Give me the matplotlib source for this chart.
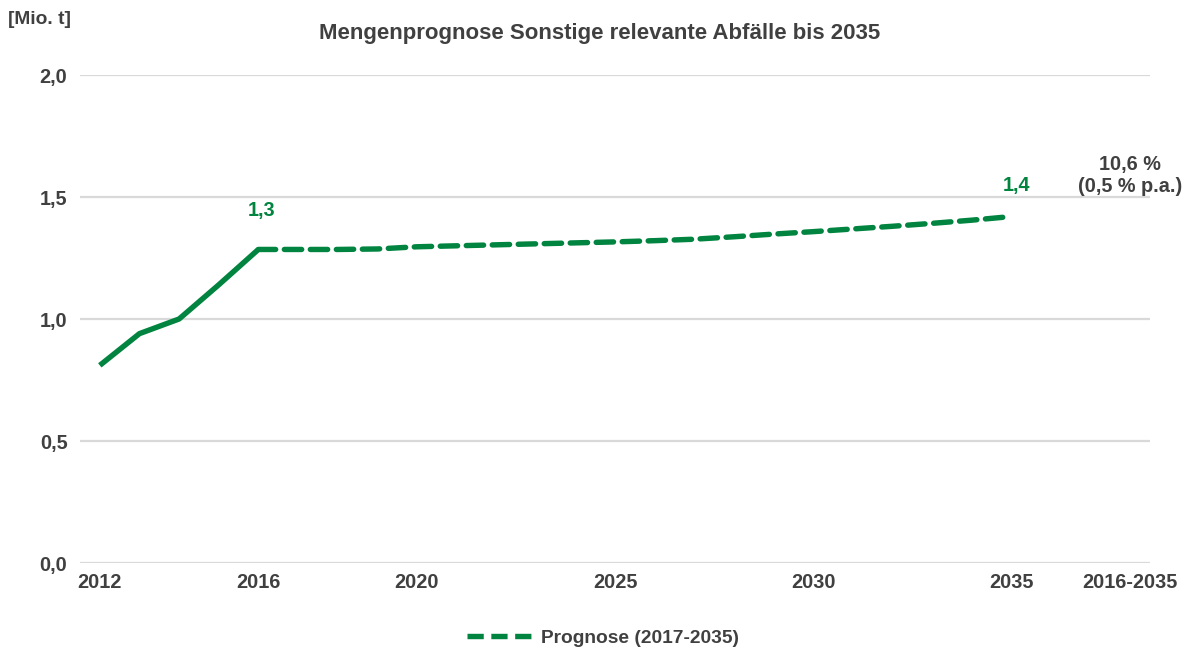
import matplotlib
matplotlib.use("Agg")
import matplotlib.pyplot as plt
from matplotlib.lines import Line2D

# Data
hist_years = [2012, 2013, 2014, 2015, 2016]
hist_values = [0.81, 0.94, 1.00, 1.14, 1.285]
prog_years = list(range(2016, 2036))
prog_values = [1.285, 1.285, 1.285, 1.287, 1.296, 1.300, 1.304, 1.308, 1.312, 1.316,
               1.321, 1.327, 1.337, 1.348, 1.358, 1.369, 1.380, 1.392, 1.405, 1.420]
tick_years = [2012, 2016, 2020, 2025, 2030, 2035, 2038]
tick_labels = ["2012", "2016", "2020", "2025", "2030", "2035", "2016-2035"]
y_ticks = [0.0, 0.5, 1.0, 1.5, 2.0]
y_labels = ["0,0", "0,5", "1,0", "1,5", "2,0"]

green = "#00843F"
grey_text = "#404040"
fs = 14.3

plt.rcParams['font.family'] = ['Liberation Sans', 'DejaVu Sans']
plt.rcParams['font.weight'] = 'bold'

fig = plt.figure(figsize=(11.85, 6.52), dpi=100)
ax = fig.add_axes([80/1185, 89/652, (1150-80)/1185, (563-75)/652])

ax.plot(hist_years, hist_values, color=green, lw=3.9, solid_capstyle='butt', zorder=3)
ax.plot(prog_years, prog_values, color=green, lw=3.9, linestyle=(0, (3.2, 1.6)),
        dash_capstyle='round', zorder=3)

ax.set_xlim(2011.5, 2038.5)
ax.set_ylim(0, 2.0)
ax.set_yticks(y_ticks)
ax.set_yticklabels(y_labels)
ax.set_xticks(tick_years)
ax.set_xticklabels(tick_labels)
ax.tick_params(axis='both', length=0, labelsize=fs, colors=grey_text)
ax.tick_params(axis='y', pad=9)
ax.tick_params(axis='x', pad=7)
for lab in ax.get_xticklabels() + ax.get_yticklabels():
    lab.set_fontweight('bold')
ax.grid(axis='y', color='#d9d9d9', lw=1.6)
ax.set_axisbelow(True)
for s in ax.spines.values():
    s.set_visible(False)

# data labels
ax.annotate("1,3", (hist_years[-1], hist_values[-1]), xytext=(2, 28), textcoords='offset points',
            ha='center', va='center', color=green, fontsize=fs, fontweight='bold')
ax.annotate("1,4", (prog_years[-1], prog_values[-1]), xytext=(4, 22), textcoords='offset points',
            ha='center', va='center', color=green, fontsize=fs, fontweight='bold')
ax.text(2038, 1.635, "10,6 %", ha='center', va='center', color=grey_text, fontsize=fs, fontweight='bold')
ax.text(2038, 1.545, "(0,5 % p.a.)", ha='center', va='center', color=grey_text, fontsize=fs, fontweight='bold')

fig.text(600/1185, 1 - 33/652, "Mengenprognose Sonstige relevante Abfälle bis 2035",
         ha='center', va='center', color=grey_text, fontsize=16, fontweight='bold')
fig.text(39/1185, 1 - 20/652, "[Mio. t]", ha='center', va='center', color=grey_text,
         fontsize=13.8, fontweight='bold')

handle = Line2D([0], [0], color=green, lw=3.9, linestyle=(0, (3.0, 1.4)))
fig.legend([handle], ["Prognose (2017-2035)"], loc='center', bbox_to_anchor=(603/1185, 1 - 638/652),
           frameon=False, labelcolor=grey_text, handlelength=3.4, handletextpad=0.5,
           prop={'weight': 'bold', 'size': 13.8})

fig.savefig("out.png", dpi=100)
